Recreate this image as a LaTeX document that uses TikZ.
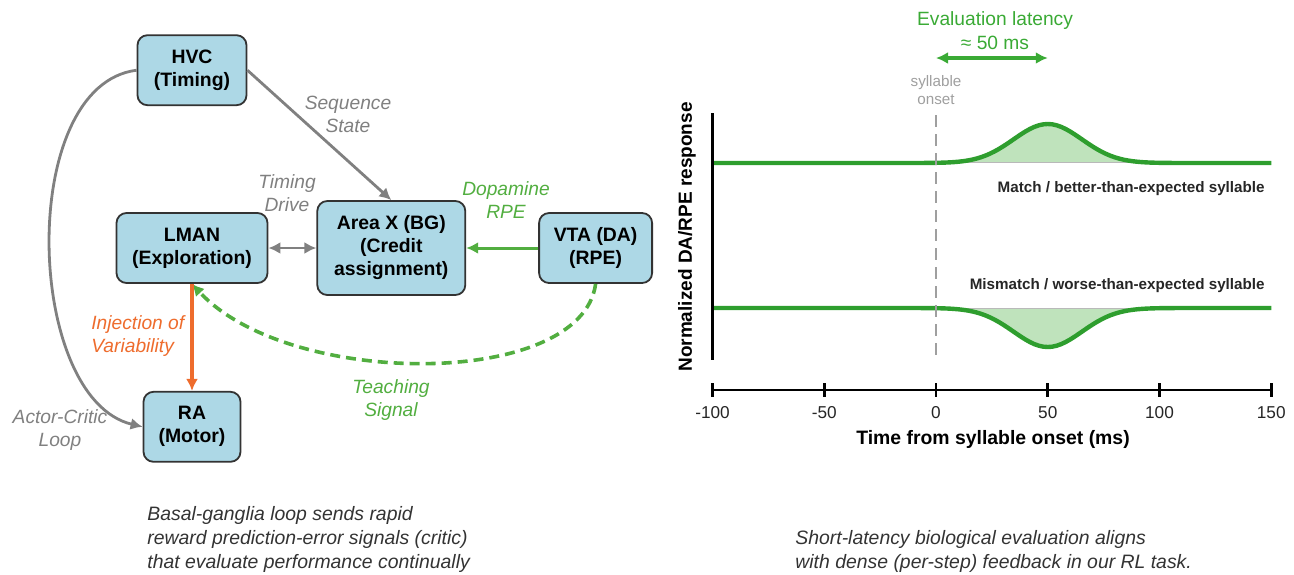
\documentclass[tikz,border=0pt]{standalone}
\usepackage{fontspec}
\setmainfont{Liberation Sans}
\usetikzlibrary{positioning, arrows.meta}

\definecolor{boxblue}{HTML}{ADD8E6}
\definecolor{boxedge}{HTML}{333333}
\definecolor{linkgray}{HTML}{808080}
\definecolor{rpegreen}{HTML}{52AE40}
\definecolor{varorange}{HTML}{EE6C2D}
\definecolor{tracegreen}{HTML}{2E9E2E}
\definecolor{latgreen}{HTML}{3AAA35}
\definecolor{tracefill}{HTML}{BFE3BC}
\definecolor{captiongray}{HTML}{333333}

\begin{document}
\begin{tikzpicture}[x=0.5pt, y=-0.5pt, >={Latex[length=6pt, width=6pt]},
        region/.style={rectangle, draw=boxedge, line width=0.9pt, fill=boxblue, rounded corners=5pt, align=center, minimum height=35pt, inner sep=2pt, font=\fontsize{9.7}{11.5}\selectfont\bfseries},
        link/.style={->, draw=linkgray, line width=1.4pt},
        tag/.style={align=center, inner sep=0pt, font=\fontsize{9.6}{11.5}\selectfont\itshape},
        note/.style={align=left, inner sep=0pt, anchor=north west, text=captiongray, font=\fontsize{9.7}{12}\selectfont\itshape},
        trace/.style={draw=tracegreen, line width=2.2pt, line join=round},
        axis/.style={draw=black, line width=1.4pt},
        ticklabel/.style={inner sep=0pt, text=black!85, font=\fontsize{8.6}{10}\selectfont},
        tracelabel/.style={inner sep=0pt, anchor=east, text=black!85, font=\fontsize{7.6}{9}\selectfont\bfseries}]

    \useasboundingbox (0,0) rectangle (1294,574);

    \node[region, minimum width=75.5pt] (lman) at (192,248) {LMAN\\(Exploration)};
    \node[region, minimum width=54.5pt, above=53pt of lman] (hvc) {HVC\\(Timing)};
    \node[region, minimum width=48.5pt, below=53.5pt of lman] (ra) {RA\\(Motor)};
    \node[region, minimum width=74pt, minimum height=47pt, right=24pt of lman] (areax) {Area X (BG)\\(Credit\\assignment)};
    \node[region, minimum width=56.5pt, right=36pt of areax] (vta) {VTA (DA)\\(RPE)};

    \draw[link] (hvc.west) .. controls +(-120,15) and +(-118,-28) .. (ra.west);
    \draw[link] (hvc.east) -- (areax.north);
    \draw[link, <->] (lman) -- (areax);
    \draw[->, rpegreen, line width=1.5pt] (vta) -- (areax);
    \draw[->, rpegreen, line width=1.8pt, dash pattern=on 5pt off 3pt] (vta.south) .. controls +(-14,105) and +(97,105) .. (lman.south);
    \draw[->, varorange, line width=1.7pt] (lman) -- (ra);

    \node[tag, text=linkgray] (seqtag) at (348,114) {Sequence\\State};
    \node[tag, text=linkgray] (drivetag) at (287,193) {Timing\\Drive};
    \node[tag, text=rpegreen] (datag) at (506,200) {Dopamine\\RPE};
    \node[tag, text=varorange, align=left, anchor=west] (vartag) at (91,336) {Injection of\\Variability};
    \node[tag, text=linkgray] (looptag) at (60,430) {Actor-Critic\\Loop};
    \node[tag, text=rpegreen] (teachtag) at (391,400) {Teaching\\Signal};

    \node[note] (leftnote) at (147,506) {Basal-ganglia loop sends rapid\\reward prediction-error signals (critic)\\that evaluate performance continually};
    \node[note] (rightnote) at (795,530) {Short-latency biological evaluation aligns\\with dense (per-step) feedback in our RL task.};

    \begin{scope}[shift={(936,0)}, xscale=2.235]
        \foreach \base/\amp in {163/-39, 308/39} {
            \filldraw[fill=tracefill, draw=gray!55, line width=0.4pt] plot[domain=4:96, samples=60] (\x, {\base+\amp*exp(-0.5*((\x-50)/15.3)^2)}) -- cycle;
            \draw[trace] plot[domain=-100:150, samples=126] (\x, {\base+\amp*exp(-0.5*((\x-50)/15.3)^2)});
        }
        \draw[draw=gray!75, line width=1.3pt, dash pattern=on 6pt off 3.5pt] (0,115) -- (0,358);
        \draw[axis] (-100,113) -- (-100,360);
        \draw[axis] (-100,390) -- (150,390);
        \foreach \t in {-100,-50,...,150} {
            \draw[axis] (\t,383) -- (\t,397);
            \node[ticklabel] (tick\t) at (\t,413) {\t};
        }
        \coordinate (latstart) at (0,58);
        \coordinate (latend) at (50,58);
        \draw[<->, latgreen, line width=1.7pt] (latstart) -- (latend);
        \node[inner sep=0pt, align=center, text=gray!75, font=\fontsize{7.6}{8.6}\selectfont] (onsettag) at (0,90) {syllable\\onset};
    \end{scope}

    \node[inner sep=0pt, align=center, text=latgreen, font=\fontsize{9.6}{12}\selectfont] (lattag) at (995,31) {Evaluation latency\\≈ 50 ms};
    \node[tracelabel] (matchtag) at (1265,189) {Match / better-than-expected syllable};
    \node[tracelabel] (mismatchtag) at (1265,286) {Mismatch / worse-than-expected syllable};
    \node[inner sep=0pt, rotate=90, font=\fontsize{9.5}{11}\selectfont\bfseries] (ytag) at (687,237) {Normalized DA/RPE response};
    \node[inner sep=0pt, font=\fontsize{9.7}{11}\selectfont\bfseries] (xtag) at (993,439) {Time from syllable onset (ms)};
\end{tikzpicture}
\end{document}
